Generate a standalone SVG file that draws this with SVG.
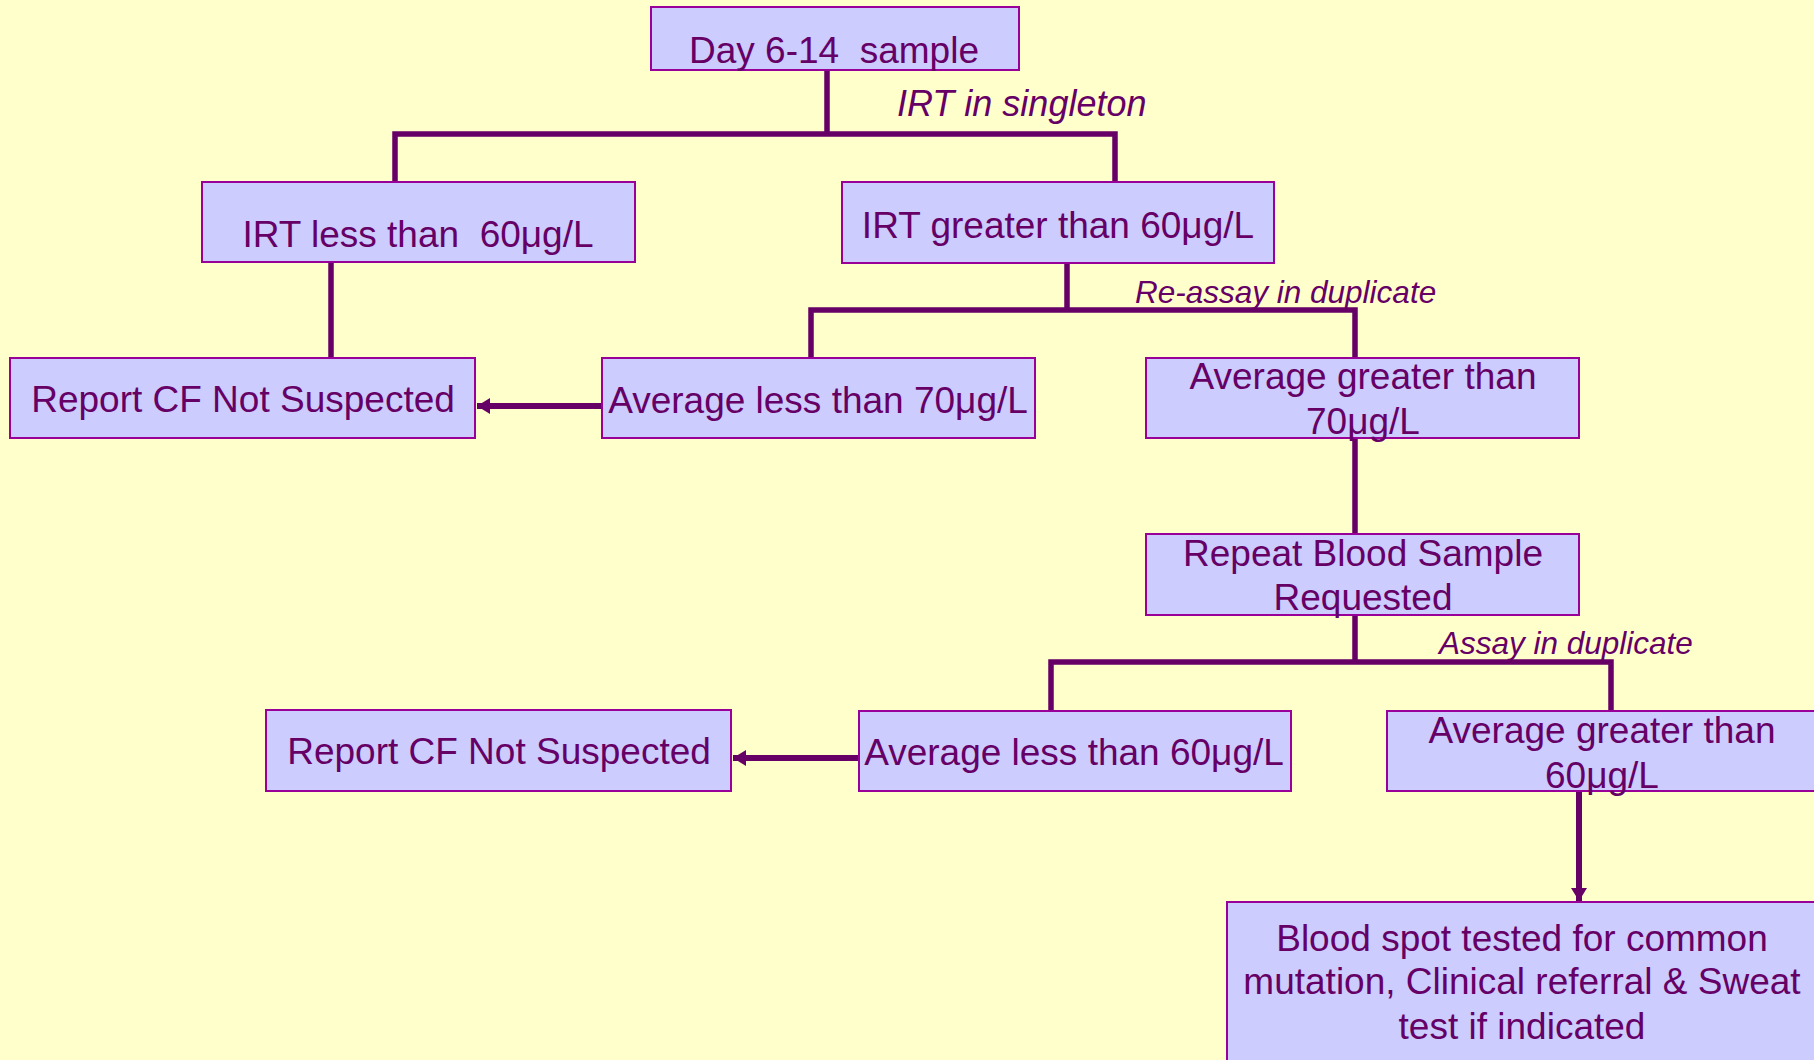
<svg xmlns="http://www.w3.org/2000/svg" width="1814" height="1060" viewBox="0 0 1814 1060">
<defs>
<style>
.box{fill:#CCCCFF;stroke:#990099;stroke-width:2}
.t{font-family:"Liberation Sans",Arial,sans-serif;font-size:37px;fill:#660066;text-anchor:middle;white-space:pre}
.lbl{font-family:"Liberation Sans",Arial,sans-serif;font-style:italic;fill:#660066}
.c{fill:none;stroke:#660066;stroke-width:5.5}
.a{fill:none;stroke:#660066;stroke-width:6}
</style>
<marker id="ah" markerUnits="userSpaceOnUse" markerWidth="14" markerHeight="18" refX="13" refY="8" orient="auto">
<path d="M0,0 L13,8 L0,16 Z" fill="#660066"/>
</marker>
</defs>
<rect width="1814" height="1060" fill="#FFFFCC"/>
<g id="connectors">
<path class="c" d="M827,70 V134 M395,182 V134 H1115 V182"/>
<path class="c" d="M331,262 V358"/>
<path class="c" d="M1067,263 V310 M811,358 V310 H1355 V358"/>
<path class="c" d="M1355,438 V534"/>
<path class="c" d="M1355,615 V662 M1051,711 V662 H1611 V711"/>
<line class="a" x1="603" y1="406" x2="477" y2="406" marker-end="url(#ah)"/>
<line class="a" x1="858" y1="758" x2="733" y2="758" marker-end="url(#ah)"/>
<line class="a" x1="1579" y1="791" x2="1579" y2="901" marker-end="url(#ah)"/>
</g>
<g id="labels">
<text class="lbl" x="897" y="116" font-size="36">IRT in singleton</text>
<text class="lbl" x="1135" y="303" font-size="31.5">Re-assay in duplicate</text>
<text class="lbl" x="1439" y="654" font-size="31.5">Assay in duplicate</text>
</g>
<g id="day">
<rect class="box" x="651" y="7" width="368" height="63"/>
<text class="t" x="834" y="63" xml:space="preserve">Day 6-14  sample</text>
</g>
<g id="irt-less">
<rect class="box" x="202" y="182" width="433" height="80"/>
<text class="t" x="418" y="247" xml:space="preserve">IRT less than  60μg/L</text>
</g>
<g id="irt-greater">
<rect class="box" x="842" y="182" width="432" height="81"/>
<text class="t" x="1058" y="238">IRT greater than 60μg/L</text>
</g>
<g id="report1">
<rect class="box" x="10" y="358" width="465" height="80"/>
<text class="t" x="243" y="412">Report CF Not Suspected</text>
</g>
<g id="avg-less-70">
<rect class="box" x="602" y="358" width="433" height="80"/>
<text class="t" x="818" y="413">Average less than 70μg/L</text>
</g>
<g id="avg-greater-70">
<rect class="box" x="1146" y="358" width="433" height="80"/>
<text class="t" x="1363" y="389">Average greater than</text>
<text class="t" x="1363" y="434">70μg/L</text>
</g>
<g id="repeat">
<rect class="box" x="1146" y="534" width="433" height="81"/>
<text class="t" x="1363" y="566">Repeat Blood Sample</text>
<text class="t" x="1363" y="610">Requested</text>
</g>
<g id="report2">
<rect class="box" x="266" y="710" width="465" height="81"/>
<text class="t" x="499" y="764">Report CF Not Suspected</text>
</g>
<g id="avg-less-60">
<rect class="box" x="859" y="711" width="432" height="80"/>
<text class="t" x="1074" y="765">Average less than 60μg/L</text>
</g>
<g id="avg-greater-60">
<rect class="box" x="1387" y="711" width="440" height="80"/>
<text class="t" x="1602" y="743">Average greater than</text>
<text class="t" x="1602" y="788">60μg/L</text>
</g>
<g id="bloodspot">
<rect class="box" x="1227" y="902" width="600" height="170"/>
<text class="t" x="1522" y="951">Blood spot tested for common</text>
<text class="t" x="1522" y="994">mutation, Clinical referral &amp; Sweat</text>
<text class="t" x="1522" y="1039">test if indicated</text>
</g>
</svg>
